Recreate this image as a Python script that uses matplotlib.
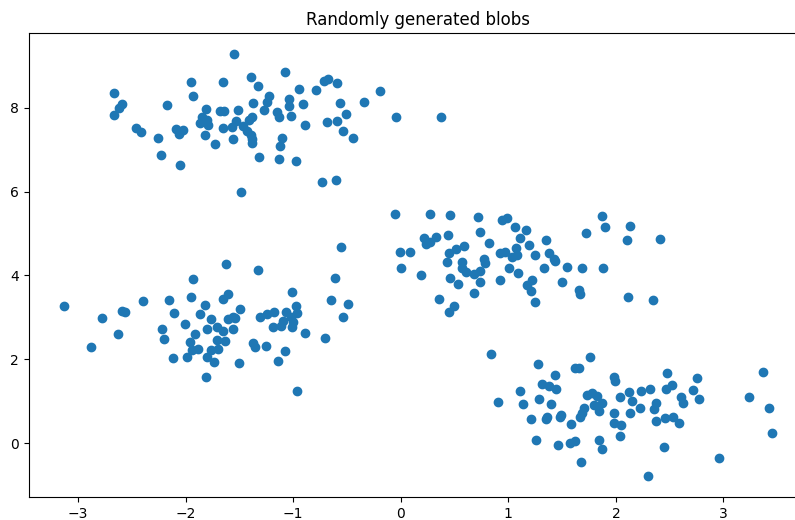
import numpy as np
import matplotlib.pyplot as plt

# blob 1 (upper left)
x1 = [-1.549, -1.393, -1.326, -1.952, -1.654, -2.665, -1.930, -2.593, -2.619, -2.665,
      -2.175, -1.372, -1.809, -1.679, -1.639, -1.514, -1.849, -1.803, -1.865, -1.788,
      -1.384, -1.407, -1.530, -1.570, -1.648, -1.468, -1.431, -1.393, -1.379, -1.384,
      -1.561, -1.726, -1.819, -2.460, -2.414, -2.256, -2.088, -2.020, -2.058, -2.231,
      -2.048, -1.316, -1.484, -1.074, -0.941, -0.786, -0.712, -0.677, -0.588, -0.197,
      -1.228, -1.245, -1.274, -1.034, -1.034, -0.913, -0.569, -0.340, -1.152, -1.127,
      -1.019, -0.513, -0.042, 0.370, -0.886, -0.681, -0.588, -0.532, -0.448, -1.102,
      -1.121, -1.127, -0.972, -0.730, -0.597]
y1 = [9.277, 8.742, 8.513, 8.609, 8.609, 8.346, 8.289, 8.091, 7.988, 7.828,
      8.074, 8.107, 7.964, 7.931, 7.931, 7.940, 7.788, 7.709, 7.630, 7.589,
      7.773, 7.709, 7.685, 7.535, 7.525, 7.566, 7.453, 7.351, 7.263, 7.153,
      7.248, 7.136, 7.351, 7.511, 7.422, 7.286, 7.487, 7.470, 7.368, 6.874,
      6.635, 6.833, 5.990, 8.862, 8.456, 8.425, 8.647, 8.680, 8.599, 8.401,
      8.294, 8.146, 7.955, 8.203, 8.043, 8.098, 8.122, 8.146, 7.900, 7.773,
      7.804, 7.859, 7.788, 7.788, 7.597, 7.668, 7.692, 7.453, 7.286, 7.286,
      7.088, 6.771, 6.737, 6.229, 6.277]

# blob 2 (lower left)
x2 = [-1.933, -3.130, -2.780, -2.593, -2.563, -2.398, -2.156, -1.952, -2.107, -1.816,
      -1.865, -1.763, -2.002, -1.803, -2.219, -2.200, -1.914, -1.958, -2.631, -2.882,
      -1.942, -1.881, -1.989, -2.116, -1.803, -1.812, -0.551, -1.623, -1.326, -0.607,
      -1.009, -1.605, -1.648, -0.644, -0.486, -0.532, -0.972, -1.493, -0.960, -1.602,
      -1.561, -1.540, -1.307, -1.245, -1.177, -1.065, -1.021, -1.096, -1.114, -1.189,
      -1.009, -1.555, -1.704, -1.648, -0.886, -0.702, -1.704, -1.633, -1.369, -1.353,
      -1.251, -1.695, -1.766, -1.074, -1.735, -1.502, -1.140, -0.963, -0.997]
y2 = [3.907, 3.263, 2.976, 3.150, 3.134, 3.382, 3.406, 3.477, 3.095, 3.286,
      3.072, 2.964, 2.833, 2.728, 2.714, 2.475, 2.594, 2.418, 2.609, 2.284,
      2.220, 2.243, 2.045, 2.021, 2.045, 1.582, 4.678, 4.272, 4.122, 3.931,
      3.597, 3.563, 3.430, 3.406, 3.310, 3.000, 3.270, 3.191, 3.095, 2.967,
      3.014, 2.976, 3.000, 3.072, 3.126, 3.134, 3.000, 2.919, 2.792, 2.761,
      2.776, 2.728, 2.761, 2.673, 2.632, 2.499, 2.458, 2.427, 2.379, 2.298,
      2.322, 2.243, 2.220, 2.189, 1.926, 1.902, 1.964, 1.248, 2.895]

# blob 3 (middle right)
x3 = [-0.051, 0.274, 0.460, 0.714, 0.941, 0.988, 1.065, 1.161, 0.733, 0.435,
      0.221, 0.268, 0.330, 0.237, 1.105, 1.347, 0.817, 1.193, 0.591, 0.516,
      -0.005, 0.082, 0.445, 0.919, 0.972, 1.074, 1.034, 1.081, 1.245, 1.375,
      0.430, 0.569, 0.770, 0.786, 0.569, 0.609, 0.677, 0.740, 1.003, 1.087,
      1.328, 0.002, 0.191, 0.454, 0.528, 0.733, 0.919, 1.220, 1.174, 1.211,
      0.677, 0.352, 0.491, 0.445, 1.251, 1.872, 1.902, 2.128, 1.726, 2.104,
      2.414, 1.421, 1.437, 1.546, 1.686, 1.881, 1.496, 1.654, 1.663, 2.110,
      2.346]
y3 = [5.465, 5.465, 5.442, 5.394, 5.322, 5.363, 5.148, 5.084, 5.043, 4.964,
      4.885, 4.804, 4.909, 4.742, 4.885, 4.845, 4.766, 4.726, 4.702, 4.623,
      4.551, 4.551, 4.527, 4.527, 4.566, 4.661, 4.446, 4.487, 4.487, 4.527,
      4.313, 4.327, 4.384, 4.303, 4.184, 4.074, 4.026, 4.105, 4.169, 4.050,
      4.169, 4.169, 4.010, 3.931, 3.788, 3.835, 3.890, 3.890, 3.771, 3.628,
      3.573, 3.430, 3.270, 3.119, 3.358, 5.418, 5.162, 5.179, 5.005, 4.845,
      4.869, 4.384, 4.351, 4.200, 4.169, 4.169, 3.835, 3.652, 3.549, 3.477,
      3.406]

# blob 4 (lower right)
x4 = [0.839, 1.273, 1.623, 1.654, 1.756, 1.437, 1.980, 1.989, 1.105, 1.313,
      1.375, 1.447, 0.900, 1.133, 1.282, 1.397, 1.732, 1.779, 1.825, 1.793,
      1.872, 1.844, 1.700, 1.686, 1.663, 1.490, 1.484, 1.360, 1.347, 1.211,
      1.583, 2.042, 2.123, 2.151, 2.221, 1.980, 2.135, 1.986, 2.048, 2.035,
      1.260, 1.459, 1.570, 1.623, 1.840, 1.872, 1.679, 2.476, 2.755, 2.523,
      2.470, 2.718, 2.234, 2.314, 2.607, 2.621, 2.777, 2.377, 2.358, 2.377,
      2.454, 2.528, 2.584, 2.445, 2.300, 2.960, 3.233, 3.363, 3.419, 3.447]
y4 = [2.117, 1.878, 1.797, 1.797, 2.045, 1.616, 1.568, 1.487, 1.248, 1.401,
      1.360, 1.296, 0.986, 0.924, 1.043, 0.924, 1.146, 1.200, 1.122, 0.907,
      0.947, 0.757, 0.828, 0.709, 0.613, 0.668, 0.613, 0.613, 0.566, 0.573,
      0.453, 1.091, 1.224, 1.010, 0.828, 0.709, 0.709, 0.470, 0.430, 0.167,
      0.072, -0.048, -0.007, 0.055, 0.072, -0.143, -0.453, 1.663, 1.544, 1.384,
      1.289, 1.265, 1.241, 1.296, 1.091, 0.947, 1.057, 0.947, 0.804, 0.532,
      0.589, 0.613, 0.484, -0.088, -0.788, -0.351, 1.105, 1.687, 0.842, 0.246]

x = np.concatenate([x1, x2, x3, x4])
y = np.concatenate([y1, y2, y3, y4])

fig = plt.figure(figsize=(7.95, 5.2), dpi=100)
# axes run a little past the right edge, as in the cropped original
ax = fig.add_axes([0.036, 0.044, 0.979, 0.892])
ax.scatter(x, y)
ax.set_title('Randomly generated blobs')

fig.savefig('out.png', dpi=100)
